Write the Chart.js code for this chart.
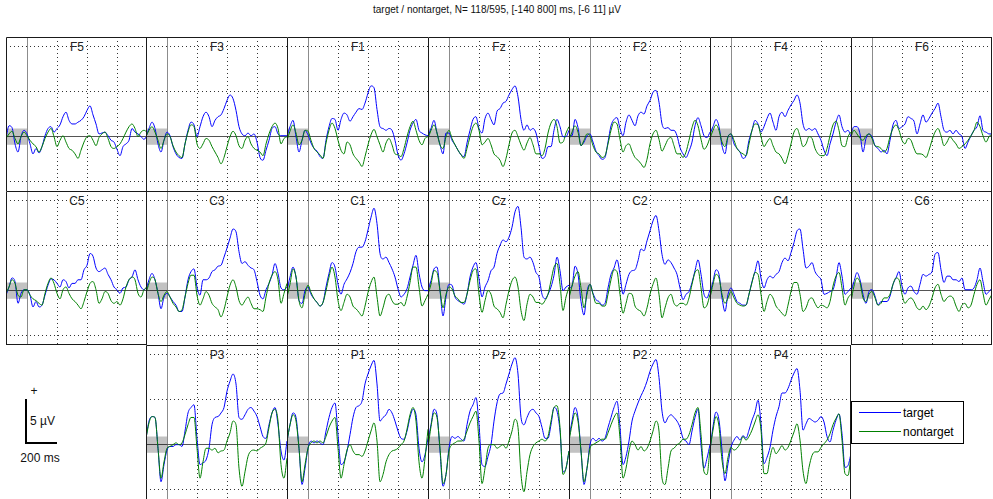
<!DOCTYPE html>
<html><head><meta charset="utf-8">
<script src="https://cdn.jsdelivr.net/npm/chart.js@4/dist/chart.umd.min.js"></script>
<style>
html,body{margin:0;padding:0;background:#fff;}
body{width:993px;height:499px;position:relative;overflow:hidden;font-family:"Liberation Sans",Arial,sans-serif;}
canvas{position:absolute;}
.t{position:absolute;white-space:nowrap;line-height:1;color:#111;}
.c{transform:translate(-50%,-50%);}
.lbl{font-size:12px;color:#222;}
#title{left:497px;top:10px;font-size:10px;}
.bar{position:absolute;background:#000;}
#legend{position:absolute;left:851px;top:401px;width:111px;height:41px;border:1px solid #000;background:#fff;}
.lline{position:absolute;left:7px;width:42px;height:0;border-top:1px solid;}
.ltxt{position:absolute;left:51px;font-size:12px;transform:translateY(-50%);line-height:1;}
</style></head><body>
<div id="title" class="t c">target / nontarget, N= 118/595, [-140 800] ms, [-6 11] µV</div>
<div class="bar" style="left:25px;top:399px;width:2px;height:45px;"></div>
<div class="bar" style="left:25px;top:442px;width:32px;height:2px;"></div>
<div class="t c" style="left:34px;top:391px;font-size:12px;">+</div>
<div class="t" style="left:30px;top:415px;font-size:12px;">5 µV</div>
<div class="t c" style="left:40px;top:458px;font-size:12px;">200 ms</div>
<div id="legend">
  <div class="lline" style="top:10px;border-color:#0000ff;"></div><div class="ltxt" style="top:11px;">target</div>
  <div class="lline" style="top:29px;border-color:#008000;"></div><div class="ltxt" style="top:30px;">nontarget</div>
</div>
<div id="labels"></div>
<script>
// ---- data (µV), sampled every 20 ms from -140 to 800 ms ----
const times = [-140,-120,-100,-80,-60,-40,-20,0,20,40,60,80,100,120,140,160,180,200,220,240,260,280,300,320,340,360,380,400,420,440,460,480,500,520,540,560,580,600,620,640,660,680,700,720,740,760,780,800];
const xGridMs = [200, 400, 600];
const xZeroMs = [0];
const yGridUv = [-5, 5, 10];
const yZeroUv = [0];
const xRange = [-140, 800];
const yRange = [-6, 11];
const baselineWindow = [-140, 0];
const baselineBand = [-0.9, 0.9];
const seriesNames = ['target', 'nontarget'];

const rowF = ['F5','F3','F1','Fz','F2','F4','F6'];
const rowC = ['C5','C3','C1','Cz','C2','C4','C6'];
const rowP = ['P3','P1','Pz','P2','P4'];

const F5_target = [-0.2,1.2,1.0,-0.8,-1.7,0.0,0.7,0.3,-0.8,-1.9,-1.3,-1.8,-1.1,0.1,0.9,1.1,0.5,0.9,1.3,2.2,2.7,1.8,1.4,1.4,1.6,1.8,2.2,2.9,3.4,2.4,1.4,0.3,0.4,0.5,0.1,-0.4,-0.6,-1.4,-2.1,-1.1,-0.8,-0.4,0.9,0.5,0.3,0.0,-0.3,0.1];
const F5_nontarget = [-0.2,0.3,0.6,-0.2,-0.8,0.0,0.5,0.1,-0.4,-0.8,-1.1,-1.7,-1.1,-0.2,0.5,0.9,0.0,-1.1,-0.4,0.1,-0.6,-1.3,-1.5,-1.9,-2.4,-1.5,-0.6,0.0,0.1,-0.4,-1.0,-0.1,0.3,0.5,-0.2,-1.1,-1.3,-1.1,-0.8,-0.2,0.5,1.1,1.4,0.9,0.0,0.5,0.7,0.5];
const F3_target = [0.0,0.9,1.6,0.9,-0.8,-1.7,-0.4,0.5,0.1,-1.1,-1.9,-2.3,-2.4,-0.8,0.7,1.6,1.3,0.0,1.1,2.2,2.7,2.2,1.1,1.8,2.2,2.4,3.1,4.0,4.6,4.2,2.9,1.1,0.3,0.1,0.4,0.1,0.3,-0.6,-2.3,-2.6,-1.5,-0.4,0.9,1.1,0.3,0.1,0.1,0.1];
const F3_nontarget = [0.0,0.7,1.1,0.5,-0.4,-1.3,-0.4,0.3,0.0,-1.0,-1.7,-2.1,-2.3,-0.8,0.5,1.3,1.1,-0.8,-1.3,-0.8,-0.2,-0.4,-1.1,-1.7,-2.3,-3.0,-2.3,-1.1,0.0,0.6,0.1,-1.0,-1.3,-0.4,0.0,-0.8,-1.3,-1.5,-1.7,-2.1,-0.8,0.3,1.1,1.5,0.9,-0.8,-0.2,0.0];
const F1_target = [0.0,1.1,1.8,0.0,-1.7,-0.4,0.7,0.2,-0.7,-1.3,-1.6,-2.2,-2.4,-0.4,1.1,2.0,1.9,0.7,1.9,2.6,2.4,1.7,2.2,2.7,3.1,3.0,3.7,4.8,5.6,5.4,3.0,1.1,0.9,0.7,0.9,0.7,-0.4,-2.0,-2.6,-1.9,-0.7,0.7,1.5,1.9,0.7,0.4,0.2,0.1];
const F1_nontarget = [-0.4,0.6,1.3,0.4,-0.9,-0.4,0.7,0.6,-0.4,-1.3,-1.7,-2.0,-2.4,-0.7,0.7,1.5,0.9,-0.4,-1.5,-1.9,-0.6,-0.9,-1.9,-2.4,-2.8,-3.3,-2.2,-0.9,0.2,0.8,0.0,-0.9,-1.7,-0.7,-0.2,-0.9,-1.9,-2.0,-2.2,-1.3,0.0,1.1,1.7,0.7,-0.4,-0.9,-0.2,0.0];
const Fz_target = [0.0,0.9,1.8,0.4,-0.9,-1.9,0.4,0.4,-0.4,-0.9,-1.5,-2.0,-2.2,-0.7,0.7,1.9,2.2,0.9,0.4,2.0,2.6,1.9,1.3,2.8,3.1,3.7,3.9,4.6,5.2,5.6,4.4,1.9,0.7,1.3,0.7,0.9,0.4,-1.1,-2.4,-2.2,-1.1,-1.1,0.7,1.9,1.1,0.0,0.0,0.7];
const Fz_nontarget = [-0.2,0.7,1.3,0.4,-0.9,-1.3,0.0,0.7,-0.2,-0.9,-1.5,-2.0,-2.4,-1.3,0.0,1.1,1.5,0.7,-0.9,-0.6,-0.2,-0.9,-1.9,-2.2,-2.6,-3.3,-2.4,-0.9,0.4,0.7,0.0,-0.9,-1.5,-0.7,-0.1,-0.9,-1.9,-1.9,-2.1,-1.3,0.4,1.5,1.9,1.1,-0.7,-0.6,0.4,1.1];
const F2_target = [0.1,0.1,1.9,1.0,-1.0,-0.6,0.1,0.3,-0.6,-1.6,-2.1,-2.5,-2.3,-0.6,1.2,1.9,2.1,0.9,0.1,1.6,2.4,1.8,1.2,2.3,2.7,2.5,3.4,4.0,4.9,5.1,3.8,1.4,0.9,1.0,0.7,0.7,0.1,-1.2,-1.9,-2.3,-1.6,-0.6,1.2,2.1,1.2,0.1,-0.1,0.5];
const F2_nontarget = [-0.3,0.5,1.2,0.5,-1.0,-0.4,0.3,0.1,-1.0,-1.7,-1.9,-2.3,-2.1,-0.8,0.7,1.6,1.4,-0.3,-1.7,-1.0,-0.8,-1.6,-2.3,-2.6,-3.0,-3.4,-2.5,-0.8,0.3,0.7,-0.3,-1.6,-1.0,-0.3,-0.1,-1.0,-1.9,-1.9,-2.3,-1.7,-0.4,1.0,1.8,1.2,-0.3,-1.4,-1.0,-0.1];
const F4_target = [0.3,1.1,1.9,1.1,-1.0,-1.9,0.0,0.3,-0.8,-1.3,-1.7,-2.4,-2.1,-0.4,0.7,1.8,1.4,0.5,1.1,2.0,2.6,1.6,0.7,2.2,2.7,2.2,2.9,3.5,4.0,4.6,3.7,1.4,0.7,0.9,0.7,0.9,0.3,-0.4,-1.5,-2.1,-0.8,0.3,1.6,2.4,1.1,0.5,0.7,0.0];
const F4_nontarget = [-0.2,0.7,1.3,0.7,-0.6,-1.1,0.0,0.3,-0.4,-1.3,-1.7,-1.9,-2.1,-0.8,0.7,1.4,1.3,0.0,-1.1,-0.6,-0.2,-1.0,-1.7,-1.9,-2.4,-3.0,-2.1,-0.8,0.5,0.9,0.0,-1.1,-0.8,0.0,-0.2,-1.3,-1.9,-2.1,-2.1,-1.3,0.1,1.3,1.7,0.7,-1.0,-1.1,0.0,0.5];
const F6_target = [0.3,1.1,1.1,0.3,-1.7,-0.2,0.3,0.0,-1.0,-1.3,-1.7,-1.5,-1.9,-0.4,1.3,1.8,0.9,1.1,1.4,2.2,2.0,1.7,0.3,1.4,2.4,1.6,2.0,2.6,3.1,3.7,2.2,0.7,0.5,0.7,0.3,0.7,0.3,0.0,-1.3,-0.6,0.1,0.7,1.1,2.3,0.7,0.5,0.3,0.3];
const F6_nontarget = [0.0,0.7,0.3,-0.2,-0.4,0.1,0.3,-0.2,-1.0,-1.1,-1.3,-1.7,-1.3,0.0,0.9,1.3,0.7,-0.4,-0.8,-0.2,-0.4,-1.3,-1.9,-1.9,-2.0,-2.3,-1.5,-0.4,0.5,0.9,0.1,-1.0,-0.6,0.0,-0.4,-0.8,-1.3,-1.1,-0.8,-0.4,0.1,0.7,1.6,1.1,0.1,-0.6,0.0,0.3];
const C5_target = [-0.5,0.4,1.4,1.0,-1.4,-0.3,0.1,0.1,-0.5,-1.8,-1.2,-1.8,-1.6,-0.5,0.6,1.3,1.2,0.8,0.4,1.2,1.0,0.3,0.8,0.8,1.2,1.2,2.3,2.8,4.1,3.8,2.5,2.1,2.3,2.5,1.8,1.2,0.4,0.1,-0.3,0.3,0.4,1.2,1.5,2.3,1.2,0.4,0.1,0.4];
const C5_nontarget = [-0.3,0.4,1.2,0.8,-0.5,-0.7,0.1,0.1,-0.5,-0.9,-1.1,-1.4,-1.6,-0.3,0.8,1.4,0.8,-0.3,-0.9,0.1,0.4,-0.3,-0.9,-1.2,-1.6,-2.0,-1.2,-0.1,0.8,1.0,0.1,-1.4,-0.9,-0.1,-0.3,-1.1,-1.4,-1.2,-1.6,-0.9,0.4,1.2,1.5,1.2,-0.3,-0.7,0.1,0.4];
const C3_target = [-0.1,1.2,1.9,1.2,-0.3,-2.0,-0.7,-0.3,-0.7,-1.2,-1.6,-2.3,-2.3,-0.7,1.2,2.1,2.4,0.4,-0.5,1.2,1.2,1.4,2.1,2.3,2.7,2.8,3.7,4.7,5.8,6.8,6.5,4.3,3.0,3.2,2.8,2.5,2.3,1.0,-0.5,-0.9,0.1,0.8,1.7,3.0,1.9,0.3,0.1,0.4];
const C3_nontarget = [-0.3,0.8,1.5,1.2,-0.3,-1.2,-0.5,-0.1,-0.7,-1.4,-1.8,-2.3,-2.1,-0.7,0.8,1.7,1.7,-0.5,-1.6,-0.9,-0.1,-0.5,-1.4,-1.8,-2.1,-2.9,-2.1,-0.7,0.6,1.2,0.4,-1.1,-1.6,-1.1,-0.7,-1.4,-2.0,-2.0,-2.1,-2.3,-0.7,0.8,1.7,2.1,1.2,-1.4,-0.3,0.8];
const C1_target = [0.0,1.5,2.6,1.5,-1.1,-1.4,0.0,0.4,-0.4,-0.9,-1.3,-1.7,-1.3,0.4,1.9,3.1,2.6,0.7,-0.4,0.7,1.3,2.0,3.0,4.3,4.8,4.8,5.4,6.7,8.1,9.1,7.4,4.1,3.5,3.7,3.1,2.4,1.5,0.2,-0.7,-0.4,0.2,1.5,2.8,3.9,1.9,0.4,0.0,0.0];
const C1_nontarget = [-0.7,0.7,2.4,1.5,-1.1,-1.9,-0.4,0.6,-0.2,-0.9,-1.3,-1.7,-1.3,0.0,1.5,2.6,1.5,-1.1,-2.2,-1.3,-0.4,-0.7,-1.7,-2.0,-2.4,-2.8,-1.7,-0.2,0.9,1.5,-0.7,-2.8,-1.9,-0.7,-0.4,-1.1,-1.5,-1.5,-1.3,-1.7,-0.7,0.9,2.6,2.6,0.4,-1.7,-1.1,-0.4];
const Cz_target = [0.0,1.1,2.4,2.6,0.0,-2.8,-0.7,0.7,0.6,-0.7,-1.1,-1.3,-1.5,-0.4,1.5,2.6,3.1,1.3,-0.7,0.4,1.1,2.2,2.6,4.1,5.0,5.6,5.4,5.9,7.0,8.7,9.3,7.0,3.7,3.5,3.7,3.1,2.0,1.5,-0.4,-0.9,-0.4,0.4,1.7,3.7,2.2,0.0,0.4,0.6];
const Cz_nontarget = [-0.4,0.7,2.2,2.0,0.0,-1.9,-0.4,0.4,0.2,-0.6,-0.9,-1.3,-1.3,-0.4,1.1,2.2,2.4,-0.4,-2.4,-1.1,0.0,-0.4,-1.7,-2.0,-2.4,-3.0,-1.5,0.0,1.1,1.5,0.4,-2.2,-3.3,-1.5,-0.4,-0.7,-1.3,-1.3,-1.5,-1.1,-0.4,1.1,2.6,3.0,0.7,-2.2,-0.7,0.4];
const C2_target = [0.3,0.5,2.7,1.8,-1.2,-2.7,-0.1,0.7,-0.3,-1.0,-1.2,-1.6,-1.4,0.3,1.8,2.5,3.4,1.8,-0.4,0.7,1.8,2.2,2.3,3.3,4.6,4.4,5.5,6.6,7.7,8.3,6.6,4.0,2.9,3.4,3.1,2.5,1.8,0.3,-1.0,-0.4,-0.1,0.9,2.2,3.4,1.8,-0.4,-0.8,0.1];
const C2_nontarget = [-0.8,0.5,1.6,2.1,0.3,-1.9,-0.4,0.7,-0.4,-1.4,-1.4,-1.7,-1.7,-0.4,1.2,2.3,2.1,-0.4,-2.5,-1.4,-0.3,-0.4,-1.7,-2.1,-2.3,-2.8,-1.9,-0.4,0.7,1.4,-0.4,-3.0,-1.9,-0.8,-0.4,-1.4,-1.7,-1.4,-1.4,-1.6,-0.8,0.7,2.0,2.3,0.3,-1.9,-1.6,-0.4];
const C4_target = [-0.4,1.0,2.3,1.8,-0.8,-2.3,-0.4,0.3,-0.4,-1.2,-1.4,-1.6,-1.6,-0.4,1.0,2.1,3.3,1.4,0.3,1.2,1.6,1.4,1.8,2.1,3.1,3.6,3.3,4.2,5.3,6.6,6.8,4.6,2.5,2.7,3.1,2.1,1.6,1.2,-0.4,-0.3,-0.1,0.1,1.4,3.1,1.6,-0.4,-0.1,0.3];
const C4_nontarget = [-0.8,0.7,1.8,1.4,-0.4,-1.4,-0.8,-0.1,-0.8,-1.4,-1.6,-1.7,-1.6,-0.4,0.9,2.0,1.8,-0.4,-2.3,-1.2,-0.4,-0.8,-1.7,-2.1,-2.5,-2.8,-1.6,-0.1,0.9,0.9,-0.4,-2.3,-1.9,-1.0,-0.8,-1.4,-1.9,-1.6,-1.7,-1.9,-1.2,0.5,1.6,2.0,0.3,-1.6,-0.8,-0.4];
const C6_target = [-0.1,1.0,2.0,1.2,-0.4,-1.4,-0.1,0.1,-0.6,-1.6,-1.2,-1.2,-1.2,-0.6,0.7,1.4,2.1,0.5,-0.4,0.3,0.5,-0.1,-0.4,0.7,1.8,1.6,1.8,2.1,4.0,4.2,2.3,0.9,1.6,1.6,1.2,1.2,1.0,1.4,0.1,0.1,0.1,0.3,1.2,2.5,1.0,-0.4,-0.1,0.3];
const C6_nontarget = [-1.2,0.5,1.4,0.9,-0.8,-1.2,-0.4,-0.1,-0.8,-1.6,-1.4,-0.8,-0.8,-0.4,0.7,1.4,1.2,-0.4,-1.4,-1.0,-0.8,-1.2,-1.9,-2.1,-1.7,-2.1,-1.7,-0.8,0.3,0.7,-0.4,-1.2,-0.8,-0.6,-0.8,-1.7,-2.3,-1.6,-1.4,-1.9,-1.6,-0.4,0.7,1.2,-0.3,-1.6,-1.0,-0.4];
const P3_target = [0.7,2.6,3.1,3.0,-0.4,-4.1,-2.2,-0.6,-0.2,-0.2,0.0,0.0,-0.2,1.5,3.5,4.1,4.4,0.7,-2.2,-2.0,-1.7,-0.4,2.2,3.0,3.1,3.5,4.1,5.9,7.0,7.8,6.7,3.0,2.8,3.3,3.9,4.1,3.7,3.1,2.0,0.9,0.7,2.2,3.5,4.1,2.2,-0.7,-1.7,0.4];
const P3_nontarget = [0.7,2.4,3.1,3.0,-0.4,-3.7,-1.9,-0.4,-0.2,0.0,0.2,0.0,0.2,1.1,2.2,3.0,3.0,-0.4,-3.7,-1.9,-0.4,-0.4,-0.6,-0.4,-0.9,-0.7,-0.6,0.4,1.3,2.6,2.2,-2.6,-4.6,-3.0,-1.3,-0.7,-0.6,-0.7,-0.4,-0.2,0.2,1.9,3.5,3.9,2.6,-2.2,-3.7,-1.5];
const P1_target = [0.4,2.2,3.5,3.0,-0.4,-4.4,-2.6,-0.4,0.4,0.2,0.4,0.2,0.0,1.5,3.0,4.1,4.6,1.1,-2.2,-1.9,-0.7,1.1,3.0,4.1,4.3,4.8,6.7,7.8,8.7,9.3,6.7,2.6,3.0,3.3,3.9,3.5,2.6,1.5,0.7,0.6,1.5,3.0,3.9,3.3,-0.4,-1.9,-1.1,0.7];
const P1_nontarget = [0.4,2.2,3.3,2.6,-0.4,-4.1,-2.2,-0.4,0.2,0.4,0.2,0.4,0.2,0.9,1.9,2.6,3.0,-0.4,-3.7,-2.2,-0.6,0.0,-0.7,-1.1,-1.1,-1.3,-0.7,0.4,1.5,2.4,0.4,-4.1,-3.3,-1.9,-1.1,-0.7,-0.6,-0.4,0.0,0.4,1.7,3.3,4.1,2.6,-1.9,-3.7,-1.5,1.7];
const Pz_target = [0.4,2.2,3.9,3.3,-0.7,-4.6,-3.3,-0.4,0.9,0.7,0.9,0.6,0.4,2.2,3.7,4.4,5.2,2.2,-2.2,-2.4,-1.3,0.0,2.6,4.6,5.6,5.7,6.7,7.8,8.9,9.6,7.8,3.0,2.2,3.0,3.7,3.9,3.5,3.1,1.9,0.7,0.7,2.2,4.1,3.7,1.5,-3.0,-2.6,-0.7];
const Pz_nontarget = [-0.4,2.0,3.5,3.0,-0.4,-4.3,-3.3,-0.7,0.0,0.2,0.4,0.4,0.6,1.5,2.4,3.1,3.7,0.4,-4.3,-2.6,-0.4,0.0,0.0,-0.4,-0.2,0.0,-0.4,0.4,1.5,2.8,1.9,-3.3,-5.2,-3.0,-1.1,-0.2,0.2,0.4,0.6,0.4,0.9,2.6,4.1,4.3,1.9,-3.3,-2.6,-0.7];
const P2_target = [0.7,2.6,4.1,3.0,-0.7,-4.4,-2.6,0.0,0.7,0.4,0.7,0.4,0.7,1.9,3.0,4.1,4.8,1.9,-2.2,-1.3,0.4,2.6,3.7,4.6,5.4,6.1,7.0,8.1,8.9,9.4,7.4,3.7,2.4,3.0,3.3,3.0,2.6,1.9,0.7,0.4,0.0,1.5,3.0,3.9,0.0,-2.6,-1.5,0.0];
const P2_nontarget = [0.4,2.2,3.5,2.6,-0.7,-4.1,-2.6,-0.4,0.0,0.2,0.4,0.6,0.6,1.3,2.2,3.0,3.5,0.7,-3.7,-2.6,-0.7,0.4,0.0,-0.6,-0.2,-0.7,-0.4,0.4,1.5,2.6,1.5,-3.7,-4.4,-2.6,-0.7,-0.4,0.0,0.2,0.6,0.6,1.1,2.2,3.5,4.1,1.1,-3.0,-3.3,-0.4];
const P4_target = [-0.6,2.0,3.6,2.7,-0.6,-4.0,-2.1,-0.3,0.5,0.9,0.5,1.0,0.7,1.6,2.7,3.6,4.9,2.3,-2.1,-1.4,-0.3,1.6,3.1,4.2,5.7,5.7,6.2,7.1,7.9,8.4,6.0,1.6,2.3,2.9,2.7,2.5,2.7,3.1,2.5,0.9,0.3,1.6,2.7,3.4,1.2,-2.5,-2.3,-1.0];
const P4_nontarget = [-0.6,1.6,3.1,2.0,-1.7,-3.2,-1.4,-0.3,-0.6,-0.4,0.1,0.9,0.5,0.9,1.6,2.5,3.3,1.6,-3.2,-3.2,-1.4,-0.3,-1.0,-0.6,-0.1,-0.6,-0.3,0.5,1.4,2.3,0.5,-2.9,-4.3,-2.5,-1.2,-0.8,-0.8,-0.3,0.1,0.5,1.2,2.2,2.9,3.4,0.5,-3.2,-3.4,-1.2];

const series = {
  F5:[F5_target,F5_nontarget], F3:[F3_target,F3_nontarget], F1:[F1_target,F1_nontarget], Fz:[Fz_target,Fz_nontarget],
  F2:[F2_target,F2_nontarget], F4:[F4_target,F4_nontarget], F6:[F6_target,F6_nontarget],
  C5:[C5_target,C5_nontarget], C3:[C3_target,C3_nontarget], C1:[C1_target,C1_nontarget], Cz:[Cz_target,Cz_nontarget],
  C2:[C2_target,C2_nontarget], C4:[C4_target,C4_nontarget], C6:[C6_target,C6_nontarget],
  P3:[P3_target,P3_nontarget], P1:[P1_target,P1_nontarget], Pz:[Pz_target,Pz_nontarget], P2:[P2_target,P2_nontarget], P4:[P4_target,P4_nontarget]
};

// ---- layout / style ----
const colLeft = [6,146,287,428,569,710,851];
const rowTop = [37,191,345];
const W = 141, H = 154;
const colors = ['#0000ff', '#008000'];

const framePlugin = {
  id: 'frame',
  afterDraw(chart, args, opts) {
    const {ctx, chartArea: {left, top, right, bottom}} = chart;
    ctx.save();
    ctx.strokeStyle = '#1a1a1a';
    ctx.lineWidth = 1;
    ctx.beginPath();
    ctx.moveTo(left + 0.5, bottom); ctx.lineTo(left + 0.5, top + 0.5); ctx.lineTo(right, top + 0.5);
    if (opts.right) { ctx.moveTo(right - 0.5, top); ctx.lineTo(right - 0.5, bottom); }
    if (opts.bottom) { ctx.moveTo(left, bottom - 0.5); ctx.lineTo(right, bottom - 0.5); }
    ctx.stroke();
    ctx.restore();
  }
};

function axis(horiz, pos, tickVals, color, dash) {
  const r = horiz ? xRange : yRange;
  return {
    type: 'linear', position: pos, min: r[0], max: r[1], display: true,
    ticks: {display: false},
    grid: {display: true, drawTicks: false, drawOnChartArea: true, color: color, lineWidth: 1},
    border: {display: false, dash: dash},
    afterBuildTicks: a => { a.ticks = tickVals.map(v => ({value: v})); },
    afterFit: a => { if (horiz) a.height = 0; else a.width = 0; }
  };
}

function makePanel(name, row, col) {
  const cv = document.createElement('canvas');
  cv.width = W; cv.height = H;
  cv.style.left = colLeft[col] + 'px';
  cv.style.top = rowTop[row] + 'px';
  document.body.appendChild(cv);

  const lab = document.createElement('div');
  lab.className = 't c lbl';
  lab.textContent = name;
  lab.style.left = (colLeft[col] + 71) + 'px';
  lab.style.top = (rowTop[row] + 10) + 'px';
  document.getElementById('labels').appendChild(lab);

  const [tgt, non] = series[name];
  const datasets = [
    {label: seriesNames[1], data: times.map((t, i) => ({x: t, y: non[i]})), borderColor: colors[1], borderWidth: 1, pointRadius: 0, fill: false, cubicInterpolationMode: 'monotone', order: 0, xAxisID: 'x', yAxisID: 'y'},
    {label: seriesNames[0], data: times.map((t, i) => ({x: t, y: tgt[i]})), borderColor: colors[0], borderWidth: 1, pointRadius: 0, fill: false, cubicInterpolationMode: 'monotone', order: 1, xAxisID: 'x', yAxisID: 'y'},
    {label: 'baseline', data: [{x: baselineWindow[0], y: baselineBand[1]}, {x: baselineWindow[1], y: baselineBand[1]}], borderWidth: 0, borderColor: 'rgba(0,0,0,0)', pointRadius: 0, backgroundColor: 'rgba(0,0,0,0.24)', fill: {value: baselineBand[0]}, order: 2, xAxisID: 'x', yAxisID: 'y'}
  ];

  new Chart(cv, {
    type: 'line',
    data: {datasets},
    options: {
      responsive: false, animation: false, events: [],
      layout: {padding: 0},
      scales: {
        x: axis(true, 'bottom', xGridMs, '#333', [1, 3]),
        x0: axis(true, 'bottom', xZeroMs, '#8c8c8c', []),
        y: axis(false, 'left', yGridUv, '#333', [1, 3]),
        y0: axis(false, 'left', yZeroUv, '#555', [])
      },
      plugins: {
        legend: {display: false}, title: {display: false}, tooltip: {enabled: false},
        frame: {right: col === 6 || name === 'P4', bottom: row === 1 && (col === 0 || col === 6)}
      }
    },
    plugins: [framePlugin]
  });
}

rowF.forEach((n, i) => makePanel(n, 0, i));
rowC.forEach((n, i) => makePanel(n, 1, i));
rowP.forEach((n, i) => makePanel(n, 2, i + 1));
</script>
</body></html>
